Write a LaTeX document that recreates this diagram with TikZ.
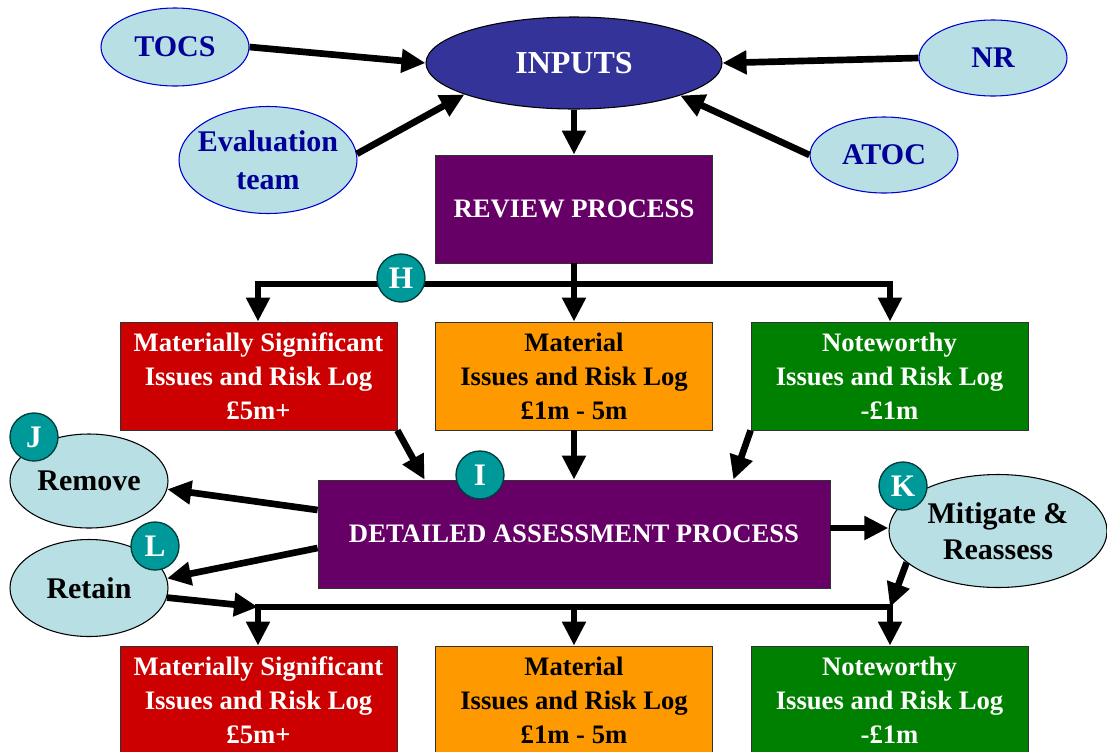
\documentclass[tikz,border=0pt]{standalone}
\usepackage{fontspec}
\setmainfont{Liberation Serif}
\usetikzlibrary{shapes.geometric,arrows.meta,calc}
\definecolor{lblue}{RGB}{184,223,228}
\definecolor{ellblue}{RGB}{0,0,204}
\definecolor{txtblue}{RGB}{0,0,153}
\definecolor{inblue}{RGB}{51,51,153}
\definecolor{procpurple}{RGB}{102,0,102}
\definecolor{boxred}{RGB}{204,0,0}
\definecolor{boxorange}{RGB}{255,153,0}
\definecolor{boxgreen}{RGB}{0,128,0}
\definecolor{badgeteal}{RGB}{0,153,153}
\definecolor{badgeborder}{RGB}{0,60,60}
\definecolor{boxborder}{RGB}{50,50,50}
\begin{document}
\begin{tikzpicture}[x=0.75pt,y=-0.75pt,
 ell/.style={ellipse, draw=ellblue, line width=0.8pt, fill=lblue, inner sep=0pt},
 ellk/.style={ell, draw=black},
 etxt/.style={text=txtblue, font=\fontsize{22.5}{28.5}\selectfont\bfseries, align=center, inner sep=0pt},
 ktxt/.style={etxt, text=black, font=\fontsize{22.5}{27}\selectfont\bfseries},
 itxt/.style={etxt, text=white, font=\fontsize{24}{28}\selectfont\bfseries},
 box/.style={rectangle, draw=boxborder, line width=0.6pt, minimum width=207.75pt, minimum height=81pt, inner sep=0pt, align=center, text=white, font=\fontsize{20}{25.5}\selectfont\bfseries},
 badge/.style={circle, draw=badgeborder, line width=1pt, fill=badgeteal, minimum size=36pt, inner sep=0pt, text=white, font=\fontsize{23.5}{23.5}\selectfont\bfseries},
 conn/.style={line width=5pt, -{Triangle[length=18pt,width=17pt]}},
 dconn/.style={line width=5pt, {Triangle[length=18pt,width=17pt]}-{Triangle[length=18pt,width=17pt]}},
]
\useasboundingbox (0,0) rectangle (1107,751);
\clip (0,0) rectangle (1107,751);

% top ellipses
\node[ell, fill=inblue, draw=black, minimum width=222pt, minimum height=69pt, label={[itxt]center:INPUTS}] (inputs) at (574,63) {};
\node[ell, minimum width=111pt, minimum height=58.5pt, label={[etxt]center:TOCS}] (tocs) at (175,47) {};
\node[ell, minimum width=111pt, minimum height=57pt, label={[etxt]center:NR}] (nr) at (993,58) {};
\node[ell, minimum width=133.5pt, minimum height=80.25pt, label={[etxt]center:{Evaluation\\team}}] (eval) at (268,160) {};
\node[ell, minimum width=111pt, minimum height=57pt, label={[etxt]center:ATOC}] (atoc) at (884,155) {};

% review
\node[box, fill=procpurple] (review) at (574,209) {REVIEW PROCESS};

% row 1
\node[box, fill=boxred] (r1) at (258.5,376) {Materially Significant\\Issues and Risk Log\\£5m+};
\node[box, fill=boxorange, text=black] (o1) at (574,376) {Material\\Issues and Risk Log\\£1m - 5m};
\node[box, fill=boxgreen] (g1) at (889.5,376) {Noteworthy\\Issues and Risk Log\\-£1m};

% detailed
\node[box, fill=procpurple, minimum width=384pt] (det) at (574,534) {DETAILED ASSESSMENT PROCESS};

% side ellipses
\node[ellk, minimum width=118.5pt, minimum height=70.5pt, label={[ktxt]center:Remove}] (remove) at (89,481) {};
\node[ellk, minimum width=118.5pt, minimum height=72.75pt, label={[ktxt]center:Retain}] (retain) at (89,588) {};
\node[ellk, minimum width=163.5pt, minimum height=84.75pt, label={[ktxt]center:{Mitigate \&\\Reassess}}] (mit) at (998,531) {};

% row 2
\node[box, fill=boxred] (r2) at (258.5,700) {Materially Significant\\Issues and Risk Log\\£5m+};
\node[box, fill=boxorange, text=black] (o2) at (574,700) {Material\\Issues and Risk Log\\£1m - 5m};
\node[box, fill=boxgreen] (g2) at (889.5,700) {Noteworthy\\Issues and Risk Log\\-£1m};

% coordinates
\coordinate (hL) at (258,284);
\coordinate (hR) at (890,284);
\coordinate (hL2) at (258,607);
\coordinate (hR2) at (890,607);
\coordinate (hM2) at (574,607);

% connectors top
\draw[conn] (tocs.east) -- (inputs.west);
\draw[conn] (eval.4) -- (inputs.196);
\draw[conn] (nr.west) -- (inputs.east);
\draw[conn] (atoc.west) -- (inputs.-17);
\draw[conn] (inputs.south) -- (review.north);

\draw[conn] (review.south) -- (o1.north);
\draw[dconn] (r1.north -| hL) -- (hL) -- (hR) -- (g1.north -| hR);

% row1 to detailed
\draw[conn] (r1.south east) -- ($(det.north west)+(107,0)$);
\draw[conn] (o1.south) -- (det.north);
\draw[conn] (g1.south west) -- ($(det.north east)+(-97,0)$);

% detailed outputs
\draw[conn] ($(det.west)+(0,-24)$) -- (remove.-6);
\draw[conn] ($(det.west)+(0,14)$) -- (retain.7);
\draw[conn] ($(det.east)+(0,-6)$) -- ($(det.east)+(58,-6)$);

% to bottom
\draw[conn] (retain.-7) -- (hL2);
\draw[conn] (mit.199) -- (hR2);
\draw[dconn] (r2.north -| hL2) -- (hL2) -- (hR2) -- (g2.north -| hR2);
\draw[conn] (hM2) -- (o2.north);

% badges
\node[badge] (bH) at (401,278) {H};
\node[badge] (bI) at (480,475) {I};
\node[badge] (bJ) at (34,437) {J};
\node[badge] (bL) at (155,546) {L};
\node[badge] (bK) at (903,486) {K};
\end{tikzpicture}
\end{document}
